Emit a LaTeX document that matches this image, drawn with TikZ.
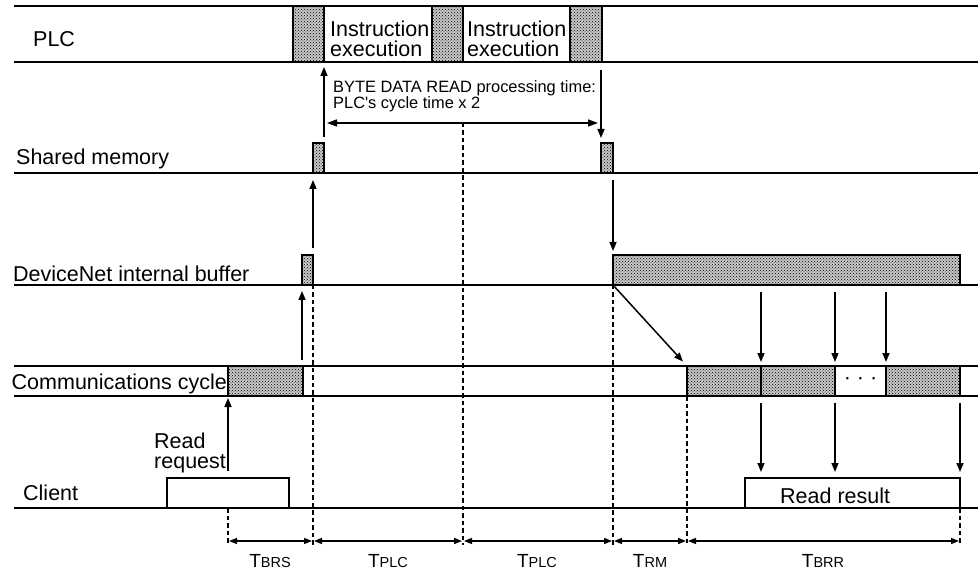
\documentclass[tikz,border=0pt]{standalone}
\usepackage{fontspec}
\setmainfont{Liberation Sans}
\newfontfamily\plainsans{Liberation Sans}
\usetikzlibrary{arrows.meta,patterns,calc}
\newcommand\lblfont{\fontsize{21.5}{20}\selectfont}
\newcommand\smfont{\plainsans\fontsize{16.4}{15}\selectfont}
\newcommand\dimlbl[2]{{\fontsize{19}{19}\selectfont #1\fontsize{14.5}{14.5}\selectfont #2}}
\begin{document}
\begin{tikzpicture}[x=1pt,y=-1pt,
  shblk/.style={draw, line width=1.5pt, preaction={fill=black!22}, pattern=crosshatch dots, pattern color=black, inner sep=0pt, outer sep=0pt, anchor=north west},
  wblk/.style={draw, line width=1.5pt, fill=white, inner sep=0pt, outer sep=0pt, anchor=north west},
  arr/.style={line width=1.5pt, -{Triangle[length=9pt,width=7pt]}},
  dimarr/.style={line width=1.4pt, {Triangle[length=8pt,width=6pt]}-{Triangle[length=8pt,width=6pt]}, shorten <=1pt, shorten >=1pt},
  dsh/.style={line width=1.3pt, dash pattern=on 4.5pt off 3pt},
  axis/.style={line width=1.8pt},
  lbl/.style={font=\lblfont, inner sep=0pt, anchor=base west},
  sml/.style={font=\smfont, inner sep=0pt, anchor=base west},
  tlbl/.style={inner sep=0pt, anchor=base},
]
\useasboundingbox (0,0) rectangle (978,572);

% time axes
\foreach \yy in {6,62,173,285,366,396,508}
  \draw[axis] (14,\yy) -- (978,\yy);

% PLC blocks
\node[shblk, minimum width=31pt, minimum height=56pt] (p1) at (293,6) {};
\node[shblk, minimum width=31pt, minimum height=56pt] (p2) at (432,6) {};
\node[shblk, minimum width=32pt, minimum height=56pt] (p3) at (570,6) {};
% shared memory
\node[shblk, minimum width=11pt, minimum height=30pt] (s1) at (313,143) {};
\node[shblk, minimum width=12pt, minimum height=30pt] (s2) at (601,143) {};
% DeviceNet buffer
\node[shblk, minimum width=11pt, minimum height=30pt] (d1) at (302,255) {};
\node[shblk, minimum width=347pt, minimum height=30pt] (d2) at (613,255) {};
% communications cycle
\node[shblk, minimum width=75pt, minimum height=30pt] (c1) at (228,366) {};
\node[shblk, minimum width=74pt, minimum height=30pt] (c2) at (687,366) {};
\node[shblk, minimum width=74pt, minimum height=30pt] (c3) at (761,366) {};
\node[wblk, minimum width=51pt, minimum height=30pt, font=\lblfont] (c4) at (835,366) {·\hspace{6pt}·\hspace{6pt}·};
\node[shblk, minimum width=74pt, minimum height=30pt] (c5) at (886,366) {};
% client
\node[wblk, minimum width=122pt, minimum height=30pt] (k1) at (167,478) {};
\node[wblk, minimum width=215pt, minimum height=30pt] (k2) at (745,478) {};

% labels
\node[lbl] (tplc) at (33,47) {PLC};
\node[lbl, anchor=north west, align=left] (ie1) at (330,21) {Instruction\\execution};
\node[lbl, anchor=north west, align=left] (ie2) at (467,21) {Instruction\\execution};
\node[sml, anchor=north west, align=left] (bt) at (333,80) {BYTE DATA READ processing time:\\PLC's cycle time x 2};
\node[lbl] (tsm) at (16,165) {Shared memory};
\node[lbl] (tdn) at (13,282) {DeviceNet internal buffer};
\node[lbl, anchor=base east] (tcc) at (227,389) {Communications cycle};
\node[lbl, anchor=north west, align=left] (trq) at (154,433) {Read\\request};
\node[lbl] (tcl) at (23,500) {Client};
\node[lbl] (trr) at (780,503) {Read result};

% processing time arrow
\coordinate (bA) at (324,123);
\coordinate (bB) at (601,123);
\draw[line width=1.5pt, {Triangle[length=10pt,width=7pt]}-{Triangle[length=10pt,width=7pt]}, shorten <=3pt, shorten >=3pt] (bA) -- (bB);

% data flow arrows
\draw[arr, shorten <=7pt, shorten >=2pt] (c1.south west |- k1.north) -- (c1.south west);
\draw[arr, shorten <=6pt, shorten >=6pt] (d1.south west |- c1.north) -- (d1.south west);
\draw[arr, shorten <=7pt, shorten >=7pt] (d1.north east) -- (s1.south west);
\draw[arr, shorten <=6pt, shorten >=5pt] (s1.north east) -- (p1.south east);
\draw[arr, shorten <=8pt, shorten >=5pt] (s2.north west |- p3.south) -- (s2.north west);
\draw[arr, shorten <=7pt, shorten >=4pt] (s2.south east) -- (d2.north west);
\draw[arr, shorten <=2pt, shorten >=6pt] (d2.south west) -- (c2.north west);
\draw[arr, shorten <=7pt, shorten >=4pt] (c3.north west |- d2.south) -- (c3.north west);
\draw[arr, shorten <=7pt, shorten >=4pt] (c4.north west |- d2.south) -- (c4.north west);
\draw[arr, shorten <=7pt, shorten >=4pt] (c5.north west |- d2.south) -- (c5.north west);
\draw[arr, shorten <=7pt, shorten >=6pt] (c2.south east) -- (c2.south east |- k2.north);
\draw[arr, shorten <=7pt, shorten >=6pt] (c3.south east) -- (c3.south east |- k2.north);
\draw[arr, shorten <=7pt, shorten >=6pt] (c5.south east) -- (k2.north east);

% dashed time markers
\coordinate (dimy) at (0,541);
\coordinate (dimbot) at (0,545);
\draw[dsh] (c1.south west |- k1.south) -- (dimbot -| c1.south west);
\draw[dsh] (d1.south east) -- (dimbot -| d1.south east);
\draw[dsh] (p2.south east |- bA) -- (dimbot -| p2.south east);
\draw[dsh] (d2.south west) -- (dimbot -| d2.south west);
\draw[dsh] (c2.south west) -- (dimbot -| c2.south west);
\draw[dsh] (k2.south east) -- (dimbot -| k2.south east);

% dimension arrows
\draw[dimarr] (dimy -| c1.south west) -- (dimy -| d1.south east);
\draw[dimarr] (dimy -| d1.south east) -- (dimy -| p2.south east);
\draw[dimarr] (dimy -| p2.south east) -- (dimy -| d2.south west);
\draw[dimarr] (dimy -| d2.south west) -- (dimy -| c2.south west);
\draw[dimarr] (dimy -| c2.south west) -- (dimy -| k2.south east);

\node[tlbl] (lbrs) at (270,567) {\dimlbl{T}{BRS}};
\node[tlbl] (lplc1) at (388,567) {\dimlbl{T}{PLC}};
\node[tlbl] (lplc2) at (537,567) {\dimlbl{T}{PLC}};
\node[tlbl] (lrm) at (650,567) {\dimlbl{T}{RM}};
\node[tlbl] (lbrr) at (823,567) {\dimlbl{T}{BRR}};
\end{tikzpicture}
\end{document}
